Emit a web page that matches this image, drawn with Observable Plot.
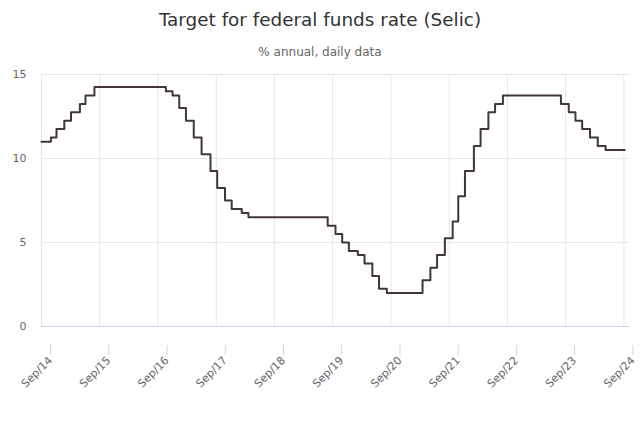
<!DOCTYPE html>
<html>
<head>
<meta charset="utf-8">
<script src="https://cdn.jsdelivr.net/npm/d3@7"></script>
<script src="https://cdn.jsdelivr.net/npm/@observablehq/plot@0.6"></script>
<style>
  html, body { margin: 0; padding: 0; background: #fff; overflow: hidden; }
  #wrap { position: relative; width: 640px; height: 427px; font-family: "DejaVu Sans", sans-serif; }
  #title { position: absolute; left: 0; width: 640px; top: 11px; text-align: center; font-size: 18.4px; line-height: 18px; color: #333333; }
  #subtitle { position: absolute; left: 0; width: 640px; top: 46px; text-align: center; font-size: 12px; line-height: 12px; color: #666666; }
  #chart { position: absolute; left: 0; top: 64px; }
</style>
</head>
<body>
<div id="wrap">
  <div id="title">Target for federal funds rate (Selic)</div>
  <div id="subtitle">% annual, daily data</div>
  <div id="chart"></div>
</div>
<script>
// Selic target rate change dates and levels (% annual)
const changeDates = [
  "2014-09-01","2014-10-30","2014-12-04","2015-01-22","2015-03-05","2015-04-30",
  "2015-06-04","2015-07-30","2016-10-20","2016-12-01","2017-01-12","2017-02-23",
  "2017-04-13","2017-06-01","2017-07-27","2017-09-07","2017-10-26","2017-12-07",
  "2018-02-08","2018-03-22","2019-08-01","2019-09-19","2019-10-31","2019-12-12",
  "2020-02-06","2020-03-19","2020-05-07","2020-06-18","2020-08-06","2021-03-18",
  "2021-05-06","2021-06-17","2021-08-05","2021-09-23","2021-10-28","2021-12-09",
  "2022-02-03","2022-03-17","2022-05-05","2022-06-16","2022-08-04","2023-08-03",
  "2023-09-21","2023-11-02","2023-12-14","2024-02-01","2024-03-21","2024-05-09",
  "2024-09-06"
];
const rates = [
  11.00, 11.25, 11.75, 12.25, 12.75, 13.25,
  13.75, 14.25, 14.00, 13.75, 13.00, 12.25,
  11.25, 10.25, 9.25, 8.25, 7.50, 7.00,
  6.75, 6.50, 6.00, 5.50, 5.00, 4.50,
  4.25, 3.75, 3.00, 2.25, 2.00, 2.75,
  3.50, 4.25, 5.25, 6.25, 7.75, 9.25,
  10.75, 11.75, 12.75, 13.25, 13.75, 13.25,
  12.75, 12.25, 11.75, 11.25, 10.75, 10.50,
  10.50
];
const xTickDates = [
  "2014-09-01","2015-09-01","2016-09-01","2017-09-01","2018-09-01","2019-09-01",
  "2020-09-01","2021-09-01","2022-09-01","2023-09-01","2024-09-01"
];
const yTicks = [0, 5, 10, 15];
const xDomain = ["2014-09-01", "2024-10-06"];

const data = changeDates.map((d, i) => ({date: new Date(d), rate: rates[i]}));
const xTicks = xTickDates.map(d => new Date(d));
const fmt = d3.utcFormat("%b/%y");

const chart = Plot.plot({
  width: 640,
  height: 363,
  marginTop: 10,
  marginBottom: 101,
  marginLeft: 41,
  marginRight: 11,
  style: {fontFamily: "DejaVu Sans, sans-serif", fontSize: "11px", color: "#666666", background: "#ffffff", overflow: "visible"},
  x: {type: "utc", domain: xDomain.map(d => new Date(d))},
  y: {domain: [0, 15]},
  marks: [
    Plot.gridX(xTicks, {stroke: "#e6e6e6", strokeOpacity: 1}),
    Plot.gridY(yTicks.filter(v => v > 0), {stroke: "#e6e6e6", strokeOpacity: 1}),
    Plot.ruleY([0], {stroke: "#ccd6eb", strokeOpacity: 1}),
    Plot.axisX(xTicks, {
      tickSize: 10, tickPadding: 3, stroke: "#ccd6eb", strokeOpacity: 1,
      tickRotate: -45, tickFormat: fmt, fill: "#666666", label: null,
      dx: 9, dy: 19
    }),
    Plot.axisY(yTicks, {tickSize: 0, tickPadding: 15, fill: "#666666", label: null}),
    Plot.line(data, {x: "date", y: "rate", curve: "step-after", stroke: "#43363b", strokeWidth: 2})
  ]
});
document.getElementById("chart").appendChild(chart);
</script>
</body>
</html>
